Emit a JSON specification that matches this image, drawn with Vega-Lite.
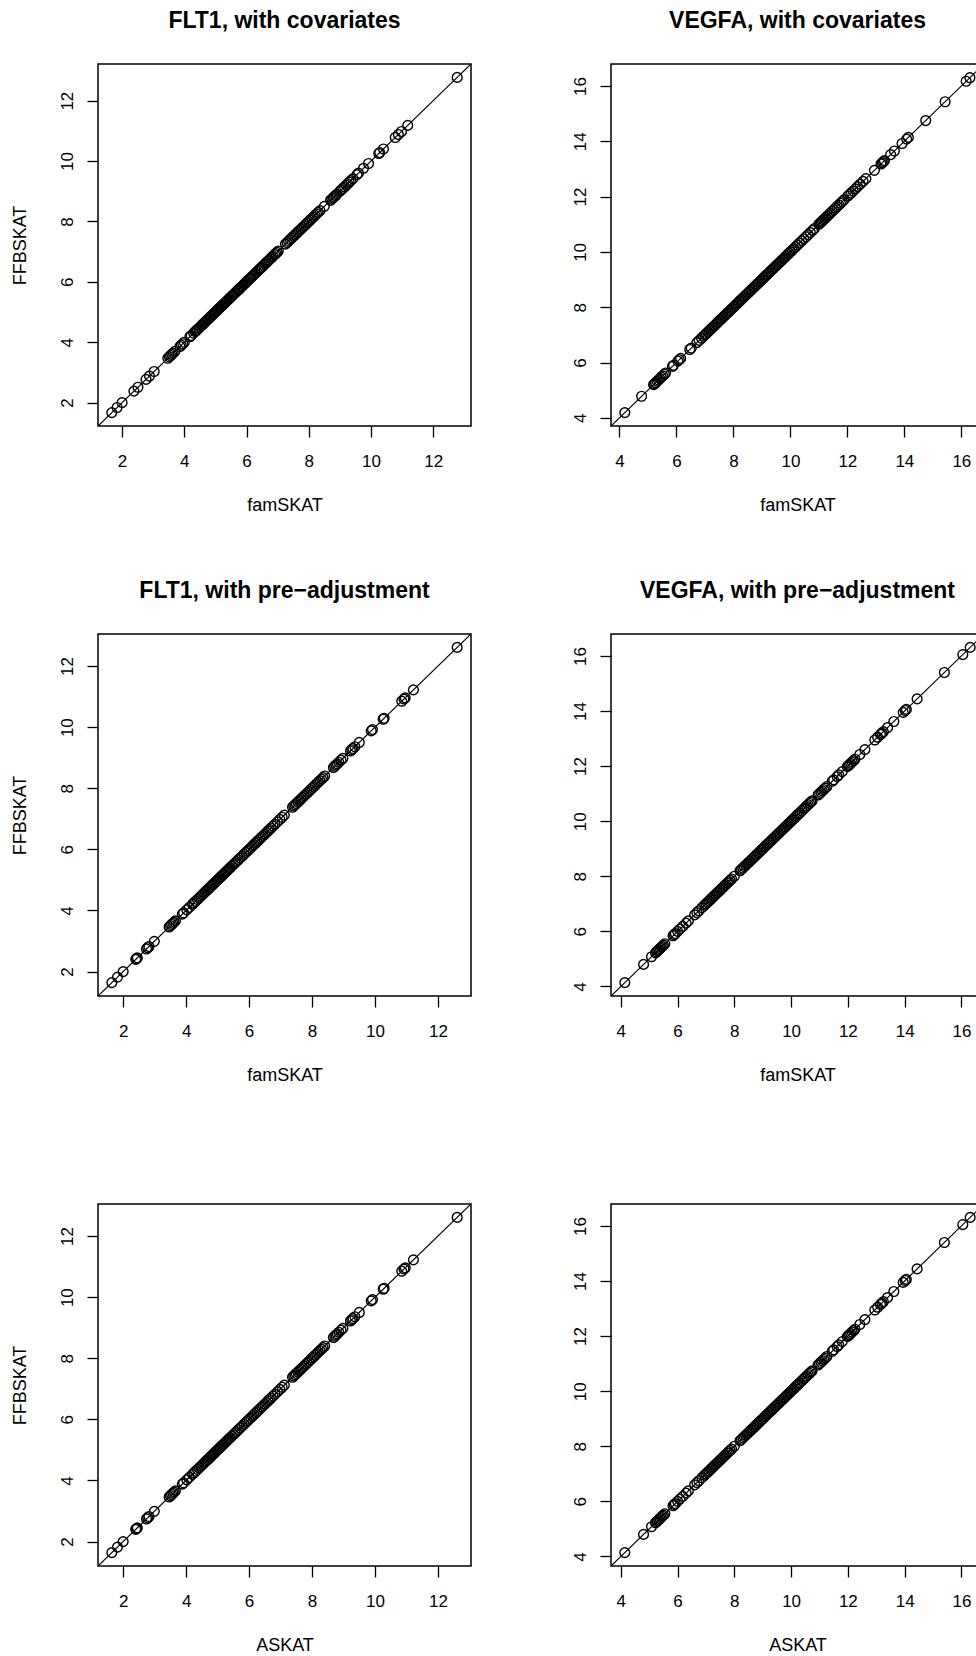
{
  "$schema": "https://vega.github.io/schema/vega-lite/v6.json",
  "background": "white",
  "padding": {"left": 10, "top": 9, "right": 0, "bottom": 0},
  "bounds": "flush",
  "columns": 2,
  "spacing": {"row": 208, "column": 140},
  "datasets": {
    "p1": [
      {"x":1.67,"y":1.67},{"x":1.84,"y":1.84},{"x":2.0,"y":2.0},{"x":2.38,"y":2.38},{"x":2.51,"y":2.51},{"x":2.77,"y":2.77},{"x":2.88,"y":2.88},{"x":3.03,"y":3.03},{"x":3.47,"y":3.47},{"x":3.52,"y":3.52},{"x":3.56,"y":3.56},{"x":3.6,"y":3.6},{"x":3.64,"y":3.64},{"x":3.7,"y":3.7},{"x":3.86,"y":3.86},{"x":3.9,"y":3.9},{"x":3.95,"y":3.95},{"x":4.0,"y":4.0},{"x":4.18,"y":4.18},{"x":4.22,"y":4.22},
      {"x":4.3,"y":4.3},{"x":4.35,"y":4.35},{"x":4.38,"y":4.38},{"x":4.42,"y":4.42},{"x":4.46,"y":4.46},{"x":4.5,"y":4.5},{"x":4.55,"y":4.55},{"x":4.58,"y":4.58},{"x":4.62,"y":4.62},{"x":4.66,"y":4.66},{"x":4.7,"y":4.7},{"x":4.74,"y":4.74},{"x":4.78,"y":4.78},{"x":4.82,"y":4.82},{"x":4.86,"y":4.86},{"x":4.9,"y":4.9},{"x":4.94,"y":4.94},{"x":4.98,"y":4.98},{"x":5.02,"y":5.02},{"x":5.06,"y":5.06},{"x":5.1,"y":5.1},{"x":5.13,"y":5.13},{"x":5.17,"y":5.17},{"x":5.21,"y":5.21},{"x":5.25,"y":5.25},{"x":5.29,"y":5.29},{"x":5.33,"y":5.33},{"x":5.37,"y":5.37},{"x":5.41,"y":5.41},{"x":5.45,"y":5.45},{"x":5.49,"y":5.49},{"x":5.53,"y":5.53},{"x":5.57,"y":5.57},{"x":5.61,"y":5.61},{"x":5.65,"y":5.65},{"x":5.7,"y":5.7},{"x":5.74,"y":5.74},{"x":5.78,"y":5.78},{"x":5.82,"y":5.82},{"x":5.86,"y":5.86},{"x":5.9,"y":5.9},{"x":5.94,"y":5.94},{"x":5.98,"y":5.98},{"x":6.02,"y":6.02},{"x":6.06,"y":6.06},{"x":6.1,"y":6.1},{"x":6.14,"y":6.14},{"x":6.19,"y":6.19},{"x":6.23,"y":6.23},{"x":6.28,"y":6.28},{"x":6.33,"y":6.33},{"x":6.38,"y":6.38},{"x":6.42,"y":6.42},{"x":6.46,"y":6.46},{"x":6.5,"y":6.5},{"x":6.55,"y":6.55},{"x":6.6,"y":6.6},{"x":6.64,"y":6.64},{"x":6.68,"y":6.68},{"x":6.72,"y":6.72},{"x":6.77,"y":6.77},{"x":6.81,"y":6.81},{"x":6.85,"y":6.85},{"x":6.9,"y":6.9},{"x":6.94,"y":6.94},{"x":6.98,"y":6.98},{"x":7.02,"y":7.02},
      {"x":7.25,"y":7.25},{"x":7.3,"y":7.3},{"x":7.35,"y":7.35},{"x":7.4,"y":7.4},{"x":7.45,"y":7.45},{"x":7.5,"y":7.5},{"x":7.55,"y":7.55},{"x":7.6,"y":7.6},{"x":7.65,"y":7.65},{"x":7.7,"y":7.7},{"x":7.75,"y":7.75},{"x":7.8,"y":7.8},{"x":7.85,"y":7.85},{"x":7.9,"y":7.9},{"x":7.95,"y":7.95},{"x":8.0,"y":8.0},{"x":8.05,"y":8.05},{"x":8.1,"y":8.1},{"x":8.15,"y":8.15},{"x":8.2,"y":8.2},{"x":8.25,"y":8.25},{"x":8.3,"y":8.3},{"x":8.36,"y":8.36},{"x":8.5,"y":8.5},
      {"x":8.7,"y":8.7},{"x":8.74,"y":8.74},{"x":8.78,"y":8.78},{"x":8.82,"y":8.82},{"x":8.86,"y":8.86},{"x":8.9,"y":8.9},{"x":9.0,"y":9.0},{"x":9.05,"y":9.05},{"x":9.1,"y":9.1},{"x":9.15,"y":9.15},{"x":9.2,"y":9.2},{"x":9.25,"y":9.25},{"x":9.3,"y":9.3},{"x":9.35,"y":9.35},{"x":9.42,"y":9.42},{"x":9.55,"y":9.55},{"x":9.6,"y":9.6},{"x":9.76,"y":9.76},{"x":9.92,"y":9.92},{"x":10.25,"y":10.25},{"x":10.28,"y":10.28},{"x":10.4,"y":10.4},{"x":10.78,"y":10.78},{"x":10.88,"y":10.88},{"x":10.98,"y":10.98},{"x":11.18,"y":11.18},{"x":12.77,"y":12.77}
    ],
    "p2": [
      {"x":4.19,"y":4.19},{"x":4.78,"y":4.78},{"x":5.2,"y":5.2},{"x":5.23,"y":5.23},{"x":5.27,"y":5.27},{"x":5.32,"y":5.32},{"x":5.37,"y":5.37},{"x":5.42,"y":5.42},{"x":5.47,"y":5.47},{"x":5.52,"y":5.52},{"x":5.58,"y":5.58},{"x":5.62,"y":5.62},{"x":5.86,"y":5.86},{"x":5.9,"y":5.9},{"x":6.05,"y":6.05},{"x":6.1,"y":6.1},{"x":6.15,"y":6.15},{"x":6.47,"y":6.47},{"x":6.52,"y":6.52},{"x":6.72,"y":6.72},{"x":6.8,"y":6.8},{"x":6.88,"y":6.88},{"x":6.95,"y":6.95},
      {"x":7.0,"y":7.0},{"x":7.05,"y":7.05},{"x":7.1,"y":7.1},{"x":7.15,"y":7.15},{"x":7.2,"y":7.2},{"x":7.25,"y":7.25},{"x":7.3,"y":7.3},{"x":7.35,"y":7.35},{"x":7.4,"y":7.4},{"x":7.45,"y":7.45},{"x":7.5,"y":7.5},{"x":7.55,"y":7.55},{"x":7.6,"y":7.6},{"x":7.65,"y":7.65},{"x":7.7,"y":7.7},{"x":7.75,"y":7.75},{"x":7.8,"y":7.8},{"x":7.85,"y":7.85},{"x":7.9,"y":7.9},{"x":7.95,"y":7.95},{"x":8.0,"y":8.0},{"x":8.05,"y":8.05},{"x":8.1,"y":8.1},{"x":8.15,"y":8.15},{"x":8.2,"y":8.2},{"x":8.25,"y":8.25},{"x":8.3,"y":8.3},{"x":8.35,"y":8.35},{"x":8.4,"y":8.4},{"x":8.45,"y":8.45},{"x":8.5,"y":8.5},{"x":8.55,"y":8.55},{"x":8.6,"y":8.6},{"x":8.65,"y":8.65},{"x":8.7,"y":8.7},{"x":8.75,"y":8.75},{"x":8.8,"y":8.8},{"x":8.85,"y":8.85},{"x":8.9,"y":8.9},{"x":8.95,"y":8.95},{"x":9.0,"y":9.0},{"x":9.05,"y":9.05},{"x":9.1,"y":9.1},{"x":9.15,"y":9.15},{"x":9.2,"y":9.2},{"x":9.25,"y":9.25},{"x":9.3,"y":9.3},{"x":9.35,"y":9.35},{"x":9.4,"y":9.4},{"x":9.45,"y":9.45},{"x":9.5,"y":9.5},{"x":9.55,"y":9.55},{"x":9.6,"y":9.6},{"x":9.65,"y":9.65},{"x":9.7,"y":9.7},{"x":9.75,"y":9.75},{"x":9.8,"y":9.8},{"x":9.85,"y":9.85},{"x":9.9,"y":9.9},{"x":9.95,"y":9.95},{"x":10.0,"y":10.0},{"x":10.06,"y":10.06},{"x":10.12,"y":10.12},{"x":10.18,"y":10.18},{"x":10.25,"y":10.25},{"x":10.32,"y":10.32},{"x":10.4,"y":10.4},{"x":10.47,"y":10.47},{"x":10.55,"y":10.55},{"x":10.62,"y":10.62},{"x":10.7,"y":10.7},{"x":10.78,"y":10.78},{"x":10.84,"y":10.84},
      {"x":11.0,"y":11.0},{"x":11.04,"y":11.04},{"x":11.08,"y":11.08},{"x":11.12,"y":11.12},{"x":11.16,"y":11.16},{"x":11.2,"y":11.2},{"x":11.25,"y":11.25},{"x":11.3,"y":11.3},{"x":11.35,"y":11.35},{"x":11.4,"y":11.4},{"x":11.46,"y":11.46},{"x":11.52,"y":11.52},{"x":11.58,"y":11.58},{"x":11.64,"y":11.64},{"x":11.7,"y":11.7},{"x":11.76,"y":11.76},{"x":11.82,"y":11.82},{"x":11.88,"y":11.88},{"x":12.02,"y":12.02},{"x":12.08,"y":12.08},{"x":12.14,"y":12.14},{"x":12.2,"y":12.2},{"x":12.28,"y":12.28},{"x":12.36,"y":12.36},{"x":12.45,"y":12.45},{"x":12.55,"y":12.55},{"x":12.65,"y":12.65},{"x":12.95,"y":12.95},{"x":13.18,"y":13.18},{"x":13.22,"y":13.22},{"x":13.26,"y":13.26},{"x":13.3,"y":13.3},{"x":13.52,"y":13.52},{"x":13.65,"y":13.65},{"x":13.92,"y":13.92},{"x":14.08,"y":14.08},{"x":14.14,"y":14.14},{"x":14.75,"y":14.75},{"x":15.43,"y":15.43},{"x":16.17,"y":16.17},{"x":16.3,"y":16.3}
    ],
    "p3": [
      {"x":1.64,"y":1.64},{"x":1.82,"y":1.82},{"x":2.0,"y":2.0},{"x":2.4,"y":2.4},{"x":2.42,"y":2.42},{"x":2.45,"y":2.45},{"x":2.74,"y":2.74},{"x":2.78,"y":2.78},{"x":2.82,"y":2.82},{"x":2.99,"y":2.99},{"x":3.46,"y":3.46},{"x":3.5,"y":3.5},{"x":3.54,"y":3.54},{"x":3.58,"y":3.58},{"x":3.62,"y":3.62},{"x":3.66,"y":3.66},{"x":3.88,"y":3.88},{"x":3.92,"y":3.92},{"x":4.02,"y":4.02},{"x":4.1,"y":4.1},{"x":4.2,"y":4.2},{"x":4.25,"y":4.25},{"x":4.3,"y":4.3},{"x":4.36,"y":4.36},{"x":4.42,"y":4.42},{"x":4.47,"y":4.47},
      {"x":4.52,"y":4.52},{"x":4.56,"y":4.56},{"x":4.6,"y":4.6},{"x":4.64,"y":4.64},{"x":4.68,"y":4.68},{"x":4.72,"y":4.72},{"x":4.76,"y":4.76},{"x":4.8,"y":4.8},{"x":4.84,"y":4.84},{"x":4.88,"y":4.88},{"x":4.92,"y":4.92},{"x":4.96,"y":4.96},{"x":5.0,"y":5.0},{"x":5.04,"y":5.04},{"x":5.08,"y":5.08},{"x":5.12,"y":5.12},{"x":5.16,"y":5.16},{"x":5.2,"y":5.2},{"x":5.24,"y":5.24},{"x":5.28,"y":5.28},{"x":5.32,"y":5.32},{"x":5.36,"y":5.36},{"x":5.4,"y":5.4},{"x":5.45,"y":5.45},{"x":5.5,"y":5.5},{"x":5.55,"y":5.55},{"x":5.6,"y":5.6},{"x":5.66,"y":5.66},{"x":5.72,"y":5.72},{"x":5.78,"y":5.78},{"x":5.84,"y":5.84},{"x":5.9,"y":5.9},{"x":5.95,"y":5.95},{"x":6.0,"y":6.0},{"x":6.05,"y":6.05},{"x":6.1,"y":6.1},{"x":6.15,"y":6.15},{"x":6.2,"y":6.2},{"x":6.25,"y":6.25},{"x":6.3,"y":6.3},{"x":6.35,"y":6.35},{"x":6.4,"y":6.4},{"x":6.45,"y":6.45},{"x":6.5,"y":6.5},{"x":6.55,"y":6.55},{"x":6.6,"y":6.6},{"x":6.65,"y":6.65},{"x":6.7,"y":6.7},{"x":6.76,"y":6.76},{"x":6.82,"y":6.82},{"x":6.9,"y":6.9},{"x":6.98,"y":6.98},{"x":7.05,"y":7.05},{"x":7.12,"y":7.12},
      {"x":7.38,"y":7.38},{"x":7.42,"y":7.42},{"x":7.46,"y":7.46},{"x":7.5,"y":7.5},{"x":7.55,"y":7.55},{"x":7.6,"y":7.6},{"x":7.65,"y":7.65},{"x":7.7,"y":7.7},{"x":7.75,"y":7.75},{"x":7.8,"y":7.8},{"x":7.85,"y":7.85},{"x":7.9,"y":7.9},{"x":7.95,"y":7.95},{"x":8.0,"y":8.0},{"x":8.05,"y":8.05},{"x":8.1,"y":8.1},{"x":8.15,"y":8.15},{"x":8.2,"y":8.2},{"x":8.25,"y":8.25},{"x":8.3,"y":8.3},{"x":8.35,"y":8.35},{"x":8.4,"y":8.4},
      {"x":8.68,"y":8.68},{"x":8.72,"y":8.72},{"x":8.76,"y":8.76},{"x":8.8,"y":8.8},{"x":8.85,"y":8.85},{"x":8.92,"y":8.92},{"x":8.98,"y":8.98},{"x":9.22,"y":9.22},{"x":9.26,"y":9.26},{"x":9.3,"y":9.3},{"x":9.36,"y":9.36},{"x":9.5,"y":9.5},{"x":9.88,"y":9.88},{"x":9.92,"y":9.92},{"x":10.26,"y":10.26},{"x":10.29,"y":10.29},{"x":10.85,"y":10.85},{"x":10.92,"y":10.92},{"x":10.96,"y":10.96},{"x":11.22,"y":11.22},{"x":12.61,"y":12.61}
    ],
    "p4": [
      {"x":4.14,"y":4.14},{"x":4.8,"y":4.8},{"x":5.08,"y":5.08},{"x":5.22,"y":5.22},{"x":5.26,"y":5.26},{"x":5.3,"y":5.3},{"x":5.34,"y":5.34},{"x":5.38,"y":5.38},{"x":5.42,"y":5.42},{"x":5.46,"y":5.46},{"x":5.5,"y":5.5},{"x":5.55,"y":5.55},{"x":5.84,"y":5.84},{"x":5.88,"y":5.88},{"x":5.92,"y":5.92},{"x":6.0,"y":6.0},{"x":6.08,"y":6.08},{"x":6.18,"y":6.18},{"x":6.3,"y":6.3},{"x":6.38,"y":6.38},{"x":6.6,"y":6.6},{"x":6.68,"y":6.68},{"x":6.75,"y":6.75},{"x":6.86,"y":6.86},
      {"x":6.95,"y":6.95},{"x":7.0,"y":7.0},{"x":7.05,"y":7.05},{"x":7.1,"y":7.1},{"x":7.15,"y":7.15},{"x":7.2,"y":7.2},{"x":7.25,"y":7.25},{"x":7.3,"y":7.3},{"x":7.35,"y":7.35},{"x":7.4,"y":7.4},{"x":7.45,"y":7.45},{"x":7.5,"y":7.5},{"x":7.55,"y":7.55},{"x":7.6,"y":7.6},{"x":7.65,"y":7.65},{"x":7.7,"y":7.7},{"x":7.75,"y":7.75},{"x":7.8,"y":7.8},{"x":7.85,"y":7.85},{"x":7.9,"y":7.9},{"x":8.0,"y":8.0},{"x":8.2,"y":8.2},{"x":8.25,"y":8.25},{"x":8.3,"y":8.3},{"x":8.35,"y":8.35},{"x":8.4,"y":8.4},{"x":8.45,"y":8.45},{"x":8.5,"y":8.5},{"x":8.55,"y":8.55},{"x":8.6,"y":8.6},{"x":8.65,"y":8.65},{"x":8.7,"y":8.7},{"x":8.75,"y":8.75},{"x":8.8,"y":8.8},{"x":8.85,"y":8.85},{"x":8.9,"y":8.9},{"x":8.95,"y":8.95},{"x":9.0,"y":9.0},{"x":9.05,"y":9.05},{"x":9.1,"y":9.1},{"x":9.15,"y":9.15},{"x":9.2,"y":9.2},{"x":9.25,"y":9.25},{"x":9.3,"y":9.3},{"x":9.35,"y":9.35},{"x":9.4,"y":9.4},{"x":9.45,"y":9.45},{"x":9.5,"y":9.5},{"x":9.55,"y":9.55},{"x":9.6,"y":9.6},{"x":9.65,"y":9.65},{"x":9.7,"y":9.7},{"x":9.75,"y":9.75},{"x":9.8,"y":9.8},{"x":9.85,"y":9.85},{"x":9.9,"y":9.9},{"x":9.95,"y":9.95},{"x":10.0,"y":10.0},{"x":10.05,"y":10.05},{"x":10.1,"y":10.1},{"x":10.15,"y":10.15},{"x":10.2,"y":10.2},{"x":10.25,"y":10.25},{"x":10.3,"y":10.3},{"x":10.38,"y":10.38},{"x":10.45,"y":10.45},{"x":10.5,"y":10.5},{"x":10.55,"y":10.55},{"x":10.6,"y":10.6},{"x":10.65,"y":10.65},{"x":10.7,"y":10.7},{"x":10.74,"y":10.74},
      {"x":10.95,"y":10.95},{"x":11.0,"y":11.0},{"x":11.05,"y":11.05},{"x":11.1,"y":11.1},{"x":11.15,"y":11.15},{"x":11.2,"y":11.2},{"x":11.26,"y":11.26},{"x":11.45,"y":11.45},{"x":11.5,"y":11.5},{"x":11.62,"y":11.62},{"x":11.68,"y":11.68},{"x":11.8,"y":11.8},{"x":11.98,"y":11.98},{"x":12.02,"y":12.02},{"x":12.06,"y":12.06},{"x":12.1,"y":12.1},{"x":12.15,"y":12.15},{"x":12.2,"y":12.2},{"x":12.25,"y":12.25},{"x":12.42,"y":12.42},{"x":12.6,"y":12.6},{"x":12.95,"y":12.95},{"x":13.05,"y":13.05},{"x":13.15,"y":13.15},{"x":13.2,"y":13.2},{"x":13.25,"y":13.25},{"x":13.4,"y":13.4},{"x":13.62,"y":13.62},{"x":13.95,"y":13.95},{"x":14.02,"y":14.02},{"x":14.06,"y":14.06},{"x":14.44,"y":14.44},{"x":15.4,"y":15.4},{"x":16.05,"y":16.05},{"x":16.31,"y":16.31}
    ]
  },
  "concat": [
    {
      "width": 373, "height": 362,
      "title": "FLT1, with covariates",
      "data": {"name": "p1"},
      "encoding": {
        "x": {"field": "x", "type": "quantitative", "scale": {"domain": [1.226, 13.214], "nice": false, "zero": false}, "axis": {"values": [2,4,6,8,10,12], "title": "famSKAT"}},
        "y": {"field": "y", "type": "quantitative", "scale": {"domain": [1.226, 13.214], "nice": false, "zero": false}, "axis": {"values": [2,4,6,8,10,12], "title": "FFBSKAT"}}
      },
      "layer": [
        {"data": {"values": [{"x": 0, "y": 0, "x2": 20, "y2": 20}]}, "mark": {"type": "rule", "clip": true, "color": "black", "strokeWidth": 1.2}, "encoding": {"x2": {"field": "x2"}, "y2": {"field": "y2"}}},
        {"mark": {"type": "point", "shape": "circle", "filled": false, "size": 95, "color": "black", "strokeWidth": 1.4, "opacity": 1}}
      ]
    },
    {
      "width": 373, "height": 362,
      "title": "VEGFA, with covariates",
      "data": {"name": "p2"},
      "encoding": {
        "x": {"field": "x", "type": "quantitative", "scale": {"domain": [3.705, 16.795], "nice": false, "zero": false}, "axis": {"values": [4,6,8,10,12,14,16], "title": "famSKAT"}},
        "y": {"field": "y", "type": "quantitative", "scale": {"domain": [3.705, 16.795], "nice": false, "zero": false}, "axis": {"values": [4,6,8,10,12,14,16], "title": null}}
      },
      "layer": [
        {"data": {"values": [{"x": 0, "y": 0, "x2": 20, "y2": 20}]}, "mark": {"type": "rule", "clip": true, "color": "black", "strokeWidth": 1.2}, "encoding": {"x2": {"field": "x2"}, "y2": {"field": "y2"}}},
        {"mark": {"type": "point", "shape": "circle", "filled": false, "size": 95, "color": "black", "strokeWidth": 1.4, "opacity": 1}}
      ]
    },
    {
      "width": 373, "height": 362,
      "title": "FLT1, with pre\u2212adjustment",
      "data": {"name": "p3"},
      "encoding": {
        "x": {"field": "x", "type": "quantitative", "scale": {"domain": [1.201, 13.049], "nice": false, "zero": false}, "axis": {"values": [2,4,6,8,10,12], "title": "famSKAT"}},
        "y": {"field": "y", "type": "quantitative", "scale": {"domain": [1.201, 13.049], "nice": false, "zero": false}, "axis": {"values": [2,4,6,8,10,12], "title": "FFBSKAT"}}
      },
      "layer": [
        {"data": {"values": [{"x": 0, "y": 0, "x2": 20, "y2": 20}]}, "mark": {"type": "rule", "clip": true, "color": "black", "strokeWidth": 1.2}, "encoding": {"x2": {"field": "x2"}, "y2": {"field": "y2"}}},
        {"mark": {"type": "point", "shape": "circle", "filled": false, "size": 95, "color": "black", "strokeWidth": 1.4, "opacity": 1}}
      ]
    },
    {
      "width": 373, "height": 362,
      "title": "VEGFA, with pre\u2212adjustment",
      "data": {"name": "p4"},
      "encoding": {
        "x": {"field": "x", "type": "quantitative", "scale": {"domain": [3.653, 16.797], "nice": false, "zero": false}, "axis": {"values": [4,6,8,10,12,14,16], "title": "famSKAT"}},
        "y": {"field": "y", "type": "quantitative", "scale": {"domain": [3.653, 16.797], "nice": false, "zero": false}, "axis": {"values": [4,6,8,10,12,14,16], "title": null}}
      },
      "layer": [
        {"data": {"values": [{"x": 0, "y": 0, "x2": 20, "y2": 20}]}, "mark": {"type": "rule", "clip": true, "color": "black", "strokeWidth": 1.2}, "encoding": {"x2": {"field": "x2"}, "y2": {"field": "y2"}}},
        {"mark": {"type": "point", "shape": "circle", "filled": false, "size": 95, "color": "black", "strokeWidth": 1.4, "opacity": 1}}
      ]
    },
    {
      "width": 373, "height": 362,
      "data": {"name": "p3"},
      "encoding": {
        "x": {"field": "x", "type": "quantitative", "scale": {"domain": [1.201, 13.049], "nice": false, "zero": false}, "axis": {"values": [2,4,6,8,10,12], "title": "ASKAT"}},
        "y": {"field": "y", "type": "quantitative", "scale": {"domain": [1.201, 13.049], "nice": false, "zero": false}, "axis": {"values": [2,4,6,8,10,12], "title": "FFBSKAT"}}
      },
      "layer": [
        {"data": {"values": [{"x": 0, "y": 0, "x2": 20, "y2": 20}]}, "mark": {"type": "rule", "clip": true, "color": "black", "strokeWidth": 1.2}, "encoding": {"x2": {"field": "x2"}, "y2": {"field": "y2"}}},
        {"mark": {"type": "point", "shape": "circle", "filled": false, "size": 95, "color": "black", "strokeWidth": 1.4, "opacity": 1}}
      ]
    },
    {
      "width": 373, "height": 362,
      "data": {"name": "p4"},
      "encoding": {
        "x": {"field": "x", "type": "quantitative", "scale": {"domain": [3.653, 16.797], "nice": false, "zero": false}, "axis": {"values": [4,6,8,10,12,14,16], "title": "ASKAT"}},
        "y": {"field": "y", "type": "quantitative", "scale": {"domain": [3.653, 16.797], "nice": false, "zero": false}, "axis": {"values": [4,6,8,10,12,14,16], "title": null}}
      },
      "layer": [
        {"data": {"values": [{"x": 0, "y": 0, "x2": 20, "y2": 20}]}, "mark": {"type": "rule", "clip": true, "color": "black", "strokeWidth": 1.2}, "encoding": {"x2": {"field": "x2"}, "y2": {"field": "y2"}}},
        {"mark": {"type": "point", "shape": "circle", "filled": false, "size": 95, "color": "black", "strokeWidth": 1.4, "opacity": 1}}
      ]
    }
  ],
  "config": {
    "font": "Liberation Sans",
    "view": {"stroke": "black", "strokeWidth": 1.5, "fill": "white"},
    "axis": {
      "domain": false, "grid": false, "ticks": true,
      "tickColor": "black", "tickSize": 11, "tickWidth": 1.3,
      "labelFont": "Liberation Sans", "labelFontSize": 17, "labelColor": "black", "labelFlush": false,
      "titleFont": "Liberation Sans", "titleFontSize": 18, "titleFontWeight": "normal", "titleColor": "black"
    },
    "axisX": {"labelPadding": 16, "titlePadding": 27},
    "axisY": {"labelAngle": -90, "labelAlign": "center", "labelBaseline": "alphabetic", "labelPadding": 15, "titlePadding": 29},
    "title": {"font": "Liberation Sans", "fontSize": 23, "fontWeight": "bold", "color": "black", "anchor": "middle", "baseline": "alphabetic", "offset": 31}
  }
}
